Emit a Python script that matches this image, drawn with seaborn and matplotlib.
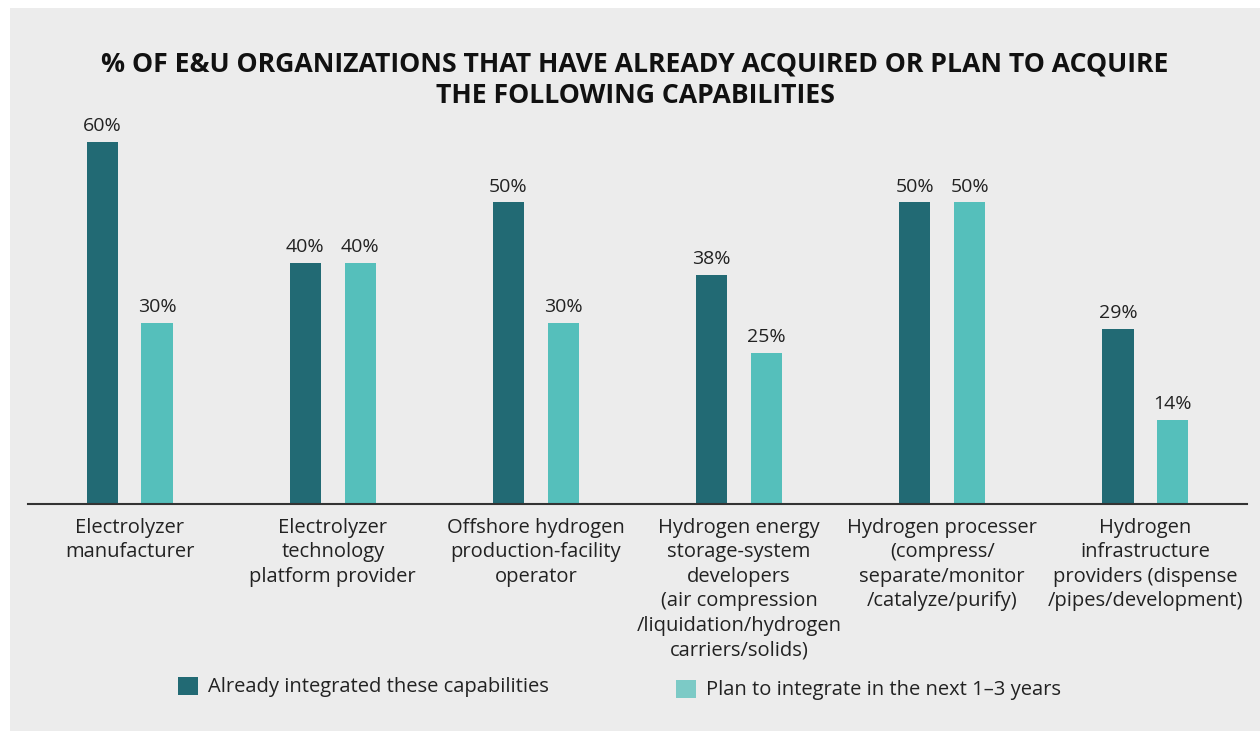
import matplotlib
matplotlib.use("Agg")
import matplotlib.pyplot as plt
from matplotlib.patches import Rectangle, Patch
import seaborn as sns
import pandas as pd

categories = [
    "Electrolyzer\nmanufacturer",
    "Electrolyzer\ntechnology\nplatform provider",
    "Offshore hydrogen\nproduction-facility\noperator",
    "Hydrogen energy\nstorage-system\ndevelopers\n(air compression\n/liquidation/hydrogen\ncarriers/solids)",
    "Hydrogen processer\n(compress/\nseparate/monitor\n/catalyze/purify)",
    "Hydrogen\ninfrastructure\nproviders (dispense\n/pipes/development)",
]
already = [60, 40, 50, 38, 50, 29]
plan = [30, 40, 30, 25, 50, 14]
series = ["Already integrated these capabilities", "Plan to integrate in the next 1\u20133 years"]
title = "% OF E&U ORGANIZATIONS THAT HAVE ALREADY ACQUIRED OR PLAN TO ACQUIRE\nTHE FOLLOWING CAPABILITIES"

DARK = "#226a74"
LIGHT = "#55bfbb"
LIGHT_LEG = "#7ccac6"
BG = "#ececec"

df = pd.DataFrame({
    "category": categories * 2,
    "value": already + plan,
    "series": [series[0]] * len(categories) + [series[1]] * len(categories),
})

sns.set_theme(style="white")
plt.rcParams["font.family"] = ["Open Sans", "DejaVu Sans"]

W, H = 1260, 731
fig = plt.figure(figsize=(W / 100, H / 100), dpi=100, facecolor="white")
fig.patches.append(Rectangle((10 / W, 0), 1250 / W, (H - 8) / H, transform=fig.transFigure,
                             facecolor=BG, edgecolor="none", zorder=-10))

ax = fig.add_axes([28 / W, (H - 504) / H, 1219 / W, (504 - 106) / H])
ax.set_facecolor("none")

sns.barplot(data=df, x="category", y="value", hue="series", order=categories,
            hue_order=series, palette=[DARK, LIGHT], width=0.54, gap=0.433,
            saturation=1, ax=ax, legend=False, linewidth=0, edgecolor="none")

for cont in ax.containers:
    ax.bar_label(cont, labels=[f"{v:.0f}%" for v in cont.datavalues], padding=5,
                 fontsize=14, color="#222222")

ax.set_xlim(-0.5, 5.5)
ax.set_ylim(0, 66)
ax.set_xlabel("")
ax.set_ylabel("")
ax.set_yticks([])
ax.tick_params(axis="x", length=0, pad=10, labelsize=14.5, labelcolor="#222222")
for lbl in ax.get_xticklabels():
    lbl.set_linespacing(1.3)
for s in ["top", "right", "left"]:
    ax.spines[s].set_visible(False)
ax.spines["bottom"].set_color("#333333")
ax.spines["bottom"].set_linewidth(1.5)

fig.text(635 / W, 1 - 80 / H, title, ha="center", va="center", fontsize=19.2,
         fontweight="bold", color="#111111", linespacing=1.3)

fig.legend(handles=[Patch(facecolor=DARK, edgecolor="none", label=series[0])],
           loc="center left", bbox_to_anchor=(160 / W, 1 - 687 / H), frameon=False,
           fontsize=14.5, handlelength=1.0, handleheight=1.0, handletextpad=0.5,
           labelcolor="#222222")
fig.legend(handles=[Patch(facecolor=LIGHT_LEG, edgecolor="none", label=series[1])],
           loc="center left", bbox_to_anchor=(658 / W, 1 - 690 / H), frameon=False,
           fontsize=14.5, handlelength=1.0, handleheight=1.0, handletextpad=0.5,
           labelcolor="#222222")

fig.savefig("out.png", dpi=100, facecolor="white")
